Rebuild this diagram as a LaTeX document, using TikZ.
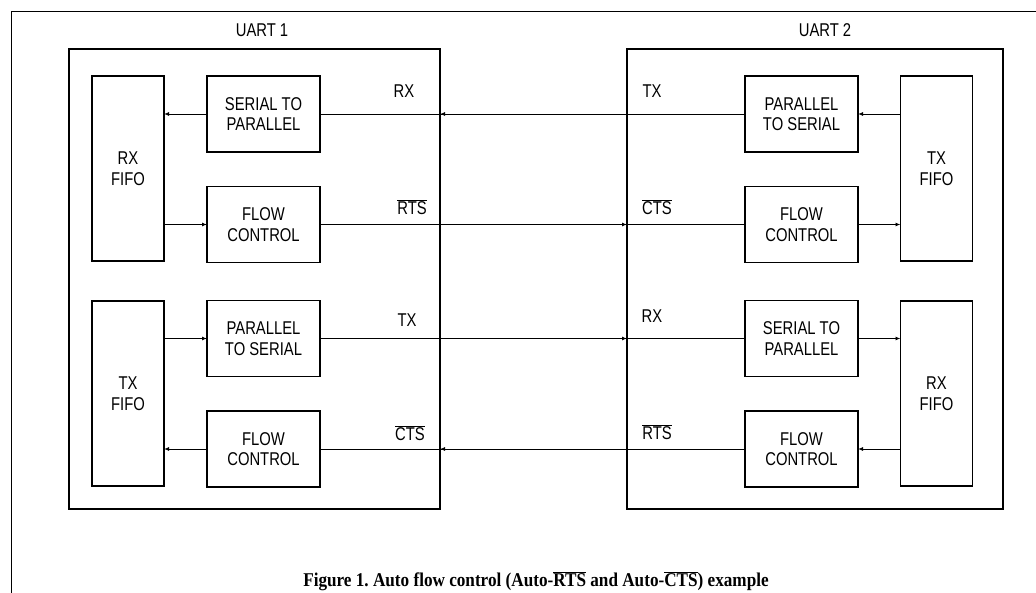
\documentclass[tikz,border=0pt]{standalone}
\usepackage{fontspec}
\usepackage{tikz}
\usetikzlibrary{arrows.meta, positioning, calc}
\newfontfamily\blockfont[FakeStretch=0.8]{Liberation Sans}
\newfontfamily\capfont[FakeStretch=0.88]{Liberation Serif}
\newcommand{\ovl}[1]{$\overline{\mbox{#1}}$}
\frenchspacing

\begin{document}
\begin{tikzpicture}[
          x=1pt, y=-1pt,
          uartbox/.style={draw, line width=1.3pt, outer sep=0pt},
          fifobox/.style={draw, line width=1.3pt, minimum width=72pt, minimum height=185pt, outer sep=0pt, align=center, font=\blockfont\fontsize{18.5}{20.5}\selectfont},
          blockbox/.style={draw, line width=1.3pt, minimum width=113pt, minimum height=76pt, outer sep=0pt, align=center, font=\blockfont\fontsize{18.5}{20.5}\selectfont},
          siglabel/.style={font=\blockfont\fontsize{18.5}{20.5}\selectfont},
          wire/.style={line width=0.9pt},
          arrow/.style={-{Latex[length=5pt,width=4pt]}, line width=0.9pt}
        ]
          \useasboundingbox (0,0) rectangle (1036,593);

          % Page frame
          \draw[line width=1pt] (11,593) -- (11,12) -- (1036,12);

          % UART outlines
          \node[uartbox, minimum width=371pt, minimum height=460pt] (uart1) at (254.5,279) {};
          \node[uartbox, minimum width=376pt, minimum height=460pt] (uart2) at (815,279) {};
          \node[siglabel] (uart1lbl) at (262,30) {UART 1};
          \node[siglabel] (uart2lbl) at (825,30) {UART 2};

          % UART 1 blocks
          \node[fifobox] (rxfifo1) at (128,168.5) {RX\\FIFO};
          \node[blockbox] (s2p1) at (263.5,114) {SERIAL TO\\PARALLEL};
          \node[blockbox] (fc1a) at (263.5,224.5) {FLOW\\CONTROL};
          \node[fifobox] (txfifo1) at (128,393.5) {TX\\FIFO};
          \node[blockbox] (p2s1) at (263.5,338.5) {PARALLEL\\TO SERIAL};
          \node[blockbox] (fc1b) at (263.5,449) {FLOW\\CONTROL};

          % UART 2 blocks
          \node[blockbox] (p2s2) at (801.5,114) {PARALLEL\\TO SERIAL};
          \node[blockbox] (fc2a) at (801.5,224.5) {FLOW\\CONTROL};
          \node[fifobox] (txfifo2) at (936.5,168.5) {TX\\FIFO};
          \node[blockbox] (s2p2) at (801.5,338.5) {SERIAL TO\\PARALLEL};
          \node[blockbox] (fc2b) at (801.5,449) {FLOW\\CONTROL};
          \node[fifobox] (rxfifo2) at (936.5,393.5) {RX\\FIFO};

          % Inner connections
          \draw[arrow] (s2p1.west) -- (s2p1.west -| rxfifo1.east);
          \draw[arrow] (fc1a.west -| rxfifo1.east) -- (fc1a.west);
          \draw[arrow] (p2s1.west -| txfifo1.east) -- (p2s1.west);
          \draw[arrow] (fc1b.west) -- (fc1b.west -| txfifo1.east);
          \draw[arrow] (p2s2.east -| txfifo2.west) -- (p2s2.east);
          \draw[arrow] (fc2a.east) -- (fc2a.east -| txfifo2.west);
          \draw[arrow] (s2p2.east) -- (s2p2.east -| rxfifo2.west);
          \draw[arrow] (fc2b.east -| rxfifo2.west) -- (fc2b.east);

          % Serial lines between the UARTs
          \draw[wire] (p2s2.west) -- (s2p1.east);
          \draw[arrow] (p2s2.west) -- (p2s2.west -| uart1.east);
          \draw[wire] (fc1a.east) -- (fc2a.west);
          \draw[arrow] (fc1a.east) -- (fc1a.east -| uart2.west);
          \draw[wire] (p2s1.east) -- (s2p2.west);
          \draw[arrow] (p2s1.east) -- (p2s1.east -| uart2.west);
          \draw[wire] (fc2b.west) -- (fc1b.east);
          \draw[arrow] (fc2b.west) -- (fc2b.west -| uart1.east);

          % Signal names
          \node[siglabel] (rx1lbl) at (404,91) {RX};
          \node[siglabel] (rts1lbl) at (412,207) {\ovl{RTS}};
          \node[siglabel] (tx1lbl) at (407,320) {TX};
          \node[siglabel] (cts1lbl) at (410,433) {\ovl{CTS}};
          \node[siglabel] (tx2lbl) at (652,91) {TX};
          \node[siglabel] (cts2lbl) at (657,207) {\ovl{CTS}};
          \node[siglabel] (rx2lbl) at (652,316) {RX};
          \node[siglabel] (rts2lbl) at (657,432) {\ovl{RTS}};

          % Caption
          \node[font=\capfont\bfseries\fontsize{19.5}{22}\selectfont] (caption) at (536,581) {Figure 1. Auto flow control (Auto-\ovl{RTS} and Auto-\ovl{CTS}) example};
        \end{tikzpicture}
\end{document}
